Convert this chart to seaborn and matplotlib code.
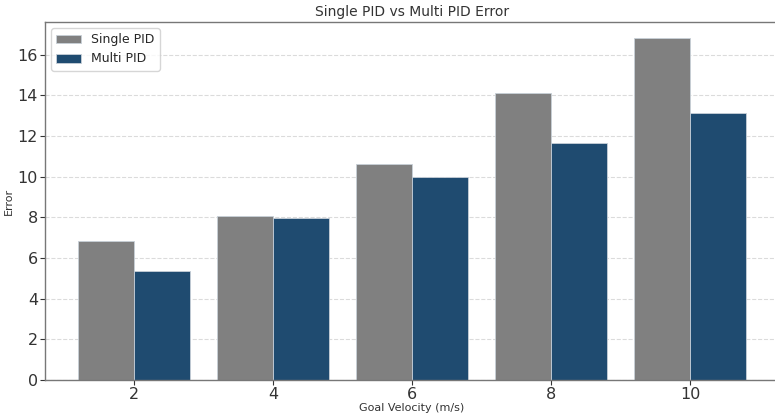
import matplotlib
matplotlib.use("Agg")
import matplotlib.pyplot as plt
import seaborn as sns
import pandas as pd

velocities = [2, 4, 6, 8, 10]
single_pid = [6.85, 8.05, 10.6, 14.1, 16.8]
multi_pid = [5.35, 7.95, 10.0, 11.65, 13.15]
series_names = ["Single PID", "Multi PID"]
colors = ["#808080", "#1f4b70"]

df = pd.DataFrame({
    "vel": velocities * 2,
    "err": single_pid + multi_pid,
    "method": [series_names[0]] * len(velocities) + [series_names[1]] * len(velocities),
})

sns.set_style("white")
plt.rcParams['font.family'] = ['DejaVu Sans']

fig = plt.figure(figsize=(7.75, 4.18), dpi=100)
ax = fig.add_axes([45 / 775, 1 - 380 / 418, (779 - 45) / 775, (380 - 22) / 418])

sns.barplot(data=df, x="vel", y="err", hue="method", native_scale=True,
            palette=colors, hue_order=series_names, ax=ax,
            edgecolor="#c8d0d8", linewidth=0.6, saturation=1, errorbar=None, width=0.8)

ax.set_xlim(0.72, 11.28)
ax.set_ylim(0, 17.6)
ax.set_xticks(velocities)
ax.set_xticklabels([str(v) for v in velocities])
ax.set_yticks(range(0, 17, 2))
ax.tick_params(axis="both", labelsize=11.5, length=3.5, width=0.8, colors="#333333", direction="out",
               bottom=True, left=True, pad=1.5)
ax.yaxis.grid(True, linestyle="--", color="#cccccc", alpha=0.7, linewidth=0.8)
ax.set_axisbelow(True)
for s in ax.spines.values():
    s.set_color("#777777")
    s.set_linewidth(1.0)

ax.set_xlabel("Goal Velocity (m/s)", fontsize=8, color="#333333", labelpad=1)
ax.set_ylabel("Error", fontsize=8, color="#333333", labelpad=3)
ax.set_title("Single PID vs Multi PID Error", fontsize=10, color="#333333", pad=4)

ax.legend(loc="upper left", fontsize=9, frameon=True, framealpha=0.8)

fig.savefig("out.png", dpi=100)
